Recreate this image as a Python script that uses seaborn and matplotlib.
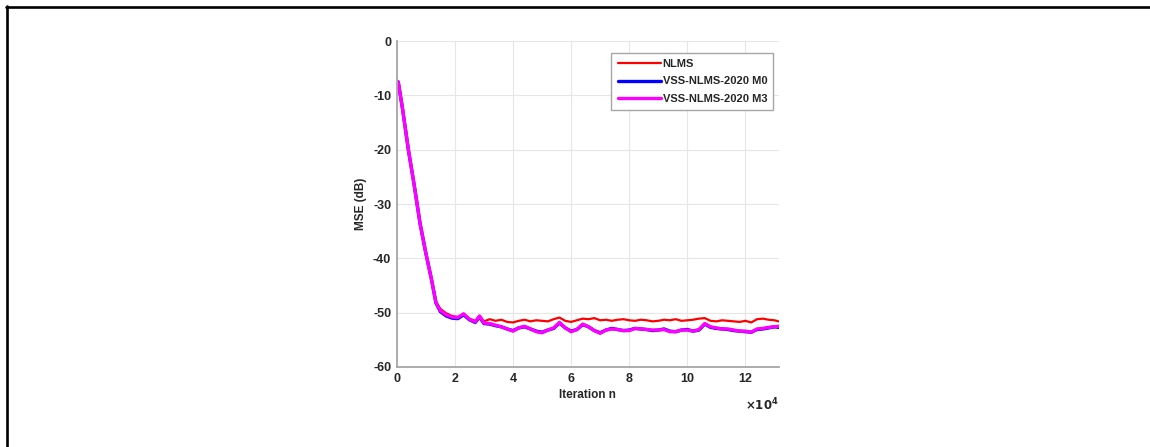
import numpy as np
import pandas as pd
import matplotlib
matplotlib.use("Agg")
import matplotlib.pyplot as plt
from matplotlib.lines import Line2D
from matplotlib.ticker import FuncFormatter
import seaborn as sns

# Iteration index (in units of 1e4) at which the learning curves are sampled
iters_e4 = [0.05, 0.2, 0.4, 0.6, 0.8, 1.0, 1.2, 1.35, 1.5, 1.7, 1.9, 2.1, 2.3, 2.5,
            2.7, 2.85, 3.0, 3.2, 3.4, 3.6, 3.8, 4.0, 4.2, 4.4, 4.6, 4.8, 5.0, 5.2,
            5.4, 5.6, 5.8, 6.0, 6.2, 6.4, 6.6, 6.8, 7.0, 7.2, 7.4, 7.6, 7.8, 8.0,
            8.2, 8.4, 8.6, 8.8, 9.0, 9.2, 9.4, 9.6, 9.8, 10.0, 10.2, 10.4, 10.6,
            10.8, 11.0, 11.2, 11.4, 11.6, 11.8, 12.0, 12.2, 12.4, 12.6, 12.8, 13.0,
            13.14]

# MSE in dB
mse_nlms = [-7.5, -12.5, -20.0, -26.5, -33.5, -39.0, -44.0, -48.0, -49.3, -50.1,
            -50.6, -50.8, -50.3, -51.1, -51.5, -50.6, -51.6, -51.2, -51.5, -51.3,
            -51.7, -51.8, -51.5, -51.3, -51.6, -51.4, -51.5, -51.6, -51.2, -50.9,
            -51.5, -51.7, -51.4, -51.1, -51.2, -51.0, -51.4, -51.3, -51.5, -51.3,
            -51.2, -51.4, -51.5, -51.3, -51.4, -51.6, -51.5, -51.3, -51.4, -51.2,
            -51.5, -51.4, -51.3, -51.1, -51.0, -51.5, -51.6, -51.4, -51.5, -51.6,
            -51.7, -51.5, -51.8, -51.2, -51.1, -51.3, -51.4, -51.6]

mse_m0 = [-7.5, -12.5, -20.0, -26.5, -33.5, -39.0, -44.0, -48.2, -49.8, -50.6,
          -51.0, -51.1, -50.4, -51.3, -51.8, -50.8, -52.0, -52.1, -52.4, -52.6,
          -53.0, -53.3, -52.8, -52.6, -53.0, -53.4, -53.6, -53.2, -52.9, -51.9,
          -52.8, -53.4, -53.1, -52.2, -52.6, -53.3, -53.7, -53.2, -52.9, -53.1,
          -53.3, -53.2, -52.9, -53.0, -53.1, -53.3, -53.2, -53.0, -53.4, -53.5,
          -53.2, -53.1, -53.4, -53.2, -52.1, -52.7, -52.9, -53.0, -53.1, -53.3,
          -53.4, -53.5, -53.6, -53.1, -53.0, -52.8, -52.6, -52.7]

mse_m3 = [-7.5, -12.5, -20.0, -26.5, -33.5, -39.0, -44.0, -48.2, -49.6, -50.4,
          -50.8, -50.9, -50.2, -51.2, -51.7, -50.6, -51.9, -52.0, -52.3, -52.6,
          -53.0, -53.4, -52.8, -52.5, -53.0, -53.5, -53.7, -53.2, -52.8, -51.8,
          -52.8, -53.5, -53.1, -52.1, -52.6, -53.3, -53.8, -53.2, -53.0, -53.1,
          -53.3, -53.3, -52.9, -53.0, -53.1, -53.2, -53.2, -53.1, -53.5, -53.5,
          -53.2, -53.2, -53.4, -53.1, -52.0, -52.6, -52.8, -53.0, -53.0, -53.2,
          -53.4, -53.4, -53.6, -53.0, -52.9, -52.7, -52.6, -52.5]

labels = ["NLMS", "VSS-NLMS-2020 M0", "VSS-NLMS-2020 M3"]
colors = ["#ff0000", "#0000ff", "#ff00ff"]
widths = [1.6, 2.4, 2.4]

x_iter = np.array(iters_e4) * 1e4
frames = []
for lab, vals in zip(labels, [mse_nlms, mse_m0, mse_m3]):
    frames.append(pd.DataFrame({"n": x_iter, "mse": vals, "alg": lab}))
df = pd.concat(frames, ignore_index=True)

sns.set_theme(style="white")
plt.rcParams["font.family"] = ["Liberation Sans", "DejaVu Sans"]
plt.rcParams["font.weight"] = "bold"
plt.rcParams["axes.unicode_minus"] = False

fig = plt.figure(figsize=(11.5, 4.47), dpi=100)
ax = fig.add_axes([0.345, 0.179, 0.332, 0.729])

for lab, col, lw in zip(labels, colors, widths):
    sns.lineplot(data=df[df["alg"] == lab], x="n", y="mse", color=col,
                 linewidth=lw, label=lab, ax=ax, sort=False, estimator=None)

ax.set_xlim(0, 131400)
ax.set_ylim(-60, 0)
ax.set_yticks(np.arange(-60, 1, 10))
ax.set_xticks(np.arange(0, 13e4, 2e4))
ax.xaxis.set_major_formatter(FuncFormatter(lambda v, p: f"{v / 1e4:g}"))
ax.text(1.0, -0.118, r"$\times\mathbf{10^4}$", transform=ax.transAxes,
        ha="right", va="center", fontsize=8.5, fontweight="bold", color="#262626")

ax.grid(True, color="#e6e6e6", linewidth=0.8)
for s in ["top", "right"]:
    ax.spines[s].set_visible(False)
for s in ["left", "bottom"]:
    ax.spines[s].set_color("#a6a6a6")
    ax.spines[s].set_linewidth(1.3)
ax.tick_params(axis="both", direction="in", length=3, width=0.8, color="#a6a6a6",
               labelsize=9, labelcolor="#262626", pad=4)
for t in ax.get_xticklabels() + ax.get_yticklabels():
    t.set_fontweight("bold")

ax.set_xlabel("Iteration n", fontsize=8.5, fontweight="bold", color="#262626", labelpad=3)
ax.set_ylabel("MSE (dB)", fontsize=8.5, fontweight="bold", color="#262626", labelpad=4)

leg = ax.legend(loc="upper right", fontsize=8, frameon=True, fancybox=False,
                framealpha=1, edgecolor="#a6a6a6", handlelength=3.9,
                borderpad=0.55, labelspacing=0.7, handletextpad=0.15,
                borderaxespad=0.3, bbox_to_anchor=(0.995, 0.975))
leg.get_frame().set_linewidth(1.0)
for t in leg.get_texts():
    t.set_fontweight("bold")

# Frame lines along the top and left of the figure
fig.add_artist(Line2D([6 / 1150, 1.0], [1 - 7 / 447, 1 - 7 / 447],
                      transform=fig.transFigure, color="black", linewidth=1.9))
fig.add_artist(Line2D([7 / 1150, 7 / 1150], [0.0, 1 - 6 / 447],
                      transform=fig.transFigure, color="black", linewidth=1.9))

fig.savefig("out.png", dpi=100)
